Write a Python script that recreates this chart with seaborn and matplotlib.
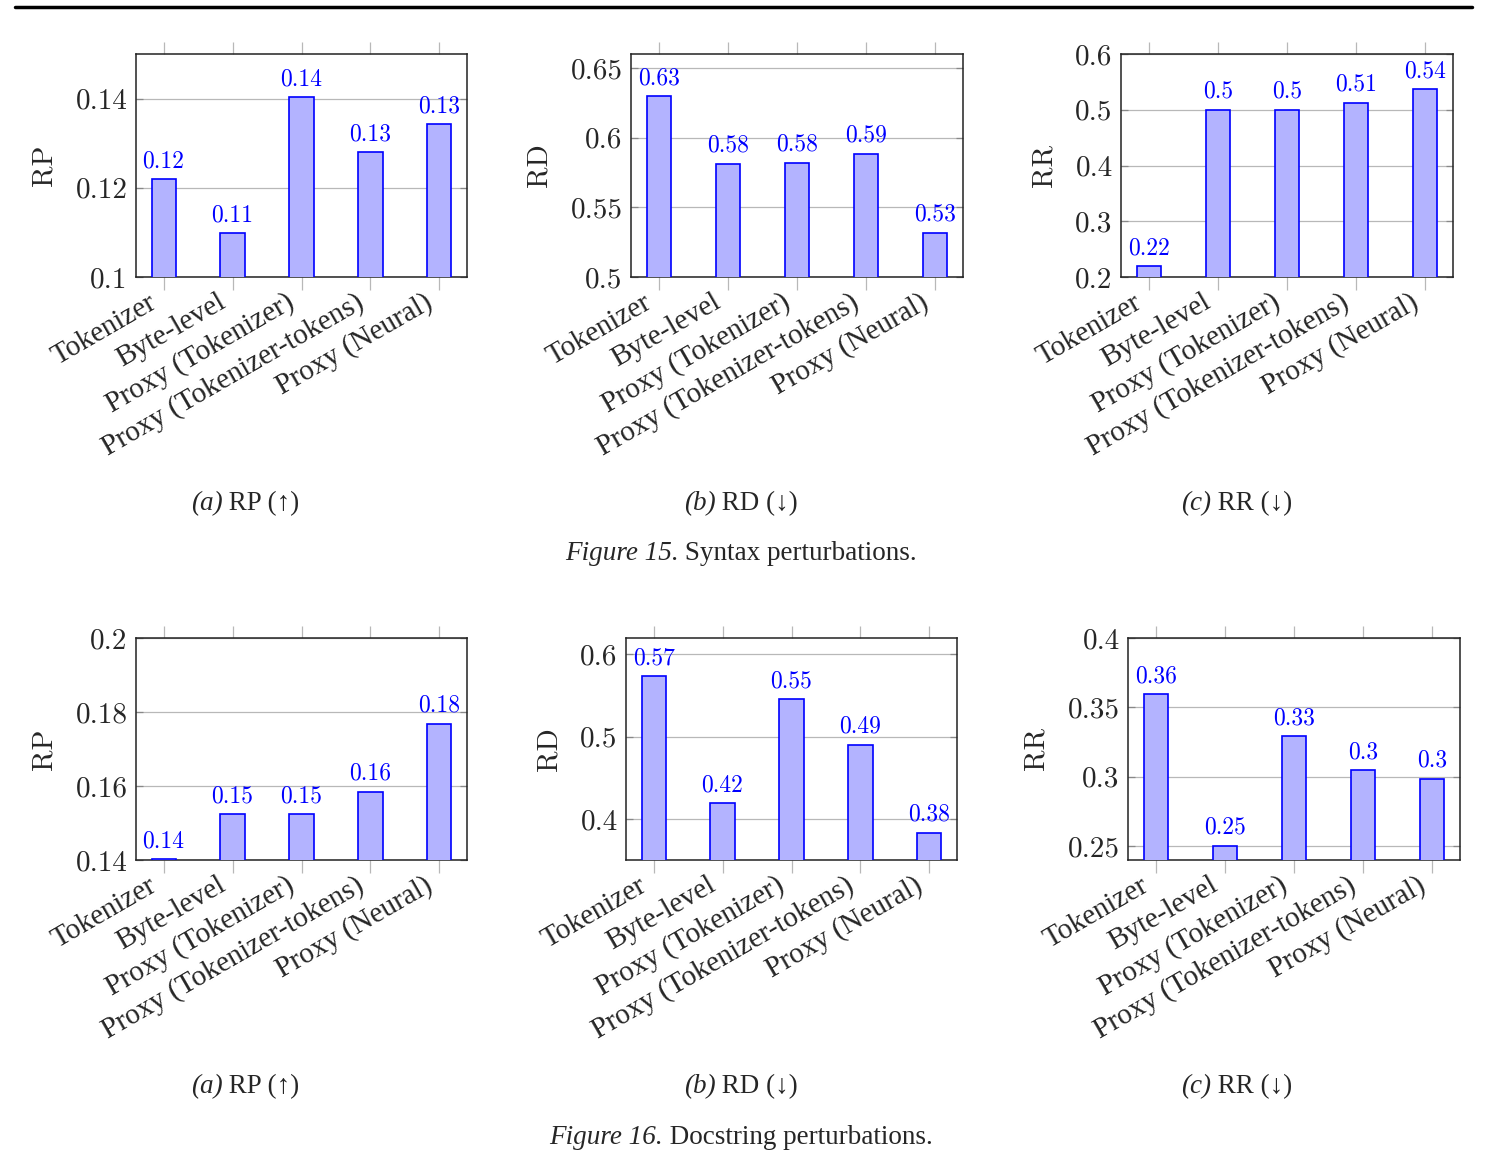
import numpy as np
import pandas as pd
import matplotlib
matplotlib.use("Agg")
import matplotlib.pyplot as plt
import seaborn as sns

# ==========================================
# Data
# ==========================================

methods = [
    "Tokenizer",
    "Byte-level",
    "Proxy (Tokenizer)",
    "Proxy (Tokenizer-tokens)",
    "Proxy (Neural)",
]

# Figure 15 - syntax perturbations
syntax_rp = [0.1219, 0.1098, 0.1403, 0.1280, 0.1342]
syntax_rd = [0.6297, 0.5814, 0.5819, 0.5884, 0.5319]
syntax_rr = [0.2192, 0.5001, 0.5001, 0.5124, 0.5369]

# Figure 16 - docstring perturbations
doc_rp = [0.1402, 0.1523, 0.1524, 0.1584, 0.1768]
doc_rd = [0.5737, 0.4189, 0.5457, 0.4903, 0.3830]
doc_rr = [0.3596, 0.2503, 0.3294, 0.3048, 0.2986]

metric_names = ["RP", "RD", "RR"]
sub_captions = [("(a)", " RP (\u2191)"), ("(b)", " RD (\u2193)"), ("(c)", " RR (\u2193)")]
fig_captions = [("Figure 15.", " Syntax perturbations."),
                ("Figure 16.", " Docstring perturbations.")]

syntax_ticks = [[0.10, 0.12, 0.14], [0.50, 0.55, 0.60, 0.65], [0.2, 0.3, 0.4, 0.5, 0.6]]
syntax_lims = [(0.10, 0.15), (0.50, 0.66), (0.20, 0.60)]
doc_ticks = [[0.14, 0.16, 0.18, 0.20], [0.4, 0.5, 0.6], [0.25, 0.30, 0.35, 0.40]]
doc_lims = [(0.14, 0.20), (0.35, 0.62), (0.24, 0.40)]

# ==========================================
# Style
# ==========================================

sns.set_theme(style="white")
plt.rcParams["font.family"] = ["Liberation Serif", "DejaVu Serif"]

W, H = 1487, 1169
fig = plt.figure(figsize=(W / 100, H / 100), dpi=100)
renderer = fig.canvas.get_renderer()

BAR_FILL = "#b3b3ff"
BAR_EDGE = "#0000ff"
GRID = "#b8b8b8"
NUM_FONT = "cmr10"


def px_axes(left, top, right, bottom):
    return fig.add_axes([left / W, 1 - bottom / H, (right - left) / W, (bottom - top) / H])


def fmt(v):
    return f"{v:.2f}".rstrip("0").rstrip(".")


def two_part_text(xc, yc, italic, regular, size):
    # italic lead-in + upright rest, centred as one line
    t1 = fig.text(0, yc, italic, ha="left", va="center", fontsize=size, style="italic")
    t2 = fig.text(0, yc, regular, ha="left", va="center", fontsize=size)
    w1 = t1.get_window_extent(renderer).width / W
    w2 = t2.get_window_extent(renderer).width / W
    x0 = xc - (w1 + w2) / 2
    t1.set_x(x0)
    t2.set_x(x0 + w1)


def draw_panel(ax, values, ticks, lims, ylabel):
    df = pd.DataFrame({"method": methods, "value": values})
    sns.barplot(data=df, x="method", y="value", ax=ax, color=BAR_FILL,
                saturation=1, width=0.35, edgecolor=BAR_EDGE, linewidth=1.2,
                zorder=3)
    ax.set_xlim(-0.4, 4.4)
    ax.set_ylim(*lims)
    ax.set_yticks(ticks)
    ax.set_yticklabels([fmt(t) for t in ticks], fontfamily=NUM_FONT, fontsize=21)
    ax.set_xticks(range(len(methods)))
    ax.set_xticklabels([])
    # rotated category labels, anchored just left of each tick
    for i, m in enumerate(methods):
        ax.annotate(m, (i, 0), xycoords=ax.get_xaxis_transform(),
                    xytext=(-6.5, -17), textcoords="offset points",
                    rotation=30, ha="right", va="center",
                    rotation_mode="anchor", fontsize=21, annotation_clip=False)
    ax.set_xlabel("")
    ax.set_ylabel(ylabel, fontfamily=NUM_FONT, fontsize=21, labelpad=13)
    ax.grid(axis="y", color=GRID, linewidth=0.9, zorder=0)
    ax.tick_params(axis="x", direction="out", length=9, width=0.9, color=GRID,
                   top=True, bottom=True)
    ax.tick_params(axis="y", direction="in", length=5, width=0.9, color="#888888",
                   left=True, right=True, pad=6)
    for sp in ax.spines.values():
        sp.set_visible(True)
        sp.set_color("#222222")
        sp.set_linewidth(1.1)
    for i, v in enumerate(values):
        ax.annotate(fmt(v), (i, v), xytext=(0, 5), textcoords="offset points",
                    ha="center", va="bottom", color=BAR_EDGE,
                    fontfamily=NUM_FONT, fontsize=17, zorder=4)


# ==========================================
# Panels
# ==========================================

rows = [
    (syntax_rp, syntax_rd, syntax_rr, syntax_ticks, syntax_lims, 54, 277),
    (doc_rp, doc_rd, doc_rr, doc_ticks, doc_lims, 638, 860),
]
lefts = [[(136, 467), (631, 963), (1121, 1453)],
         [(136, 467), (626, 957), (1128, 1460)]]
sub_x = [245, 741, 1237]

for r, (a, b, c, ticks, lims, top, bottom) in enumerate(rows):
    for k, vals in enumerate([a, b, c]):
        l, rt = lefts[r][k]
        ax = px_axes(l, top, rt, bottom)
        draw_panel(ax, vals, ticks[k], lims[k], metric_names[k])

    sy = 1 - (bottom + 227) / H
    for k, (it, rest) in enumerate(sub_captions):
        two_part_text(sub_x[k] / W, sy, it, rest, 19.5)

    cy = 1 - (bottom + 277) / H
    two_part_text(741 / W, cy, fig_captions[r][0], fig_captions[r][1], 19.5)

# running header rule
fig.add_artist(plt.Line2D([15 / W, 1472 / W], [1 - 7 / H, 1 - 7 / H],
                          color="black", linewidth=2.5))

fig.savefig("out.png", dpi=100)
